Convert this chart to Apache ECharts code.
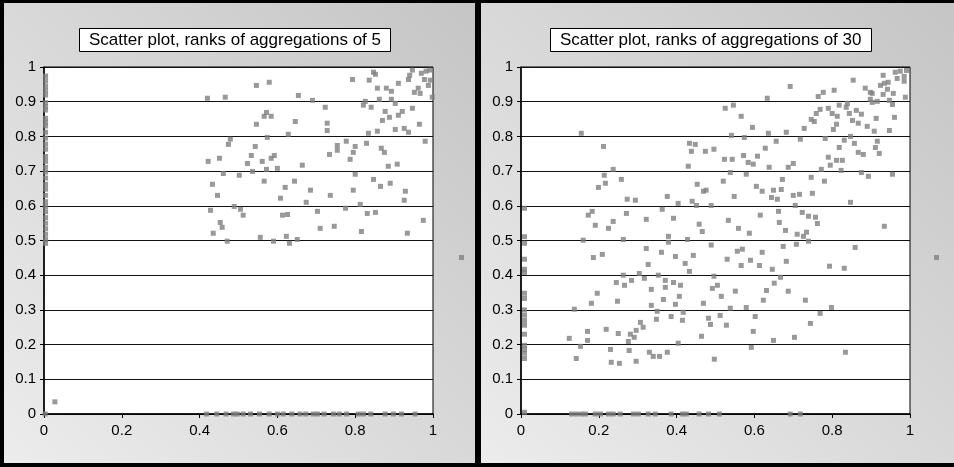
<!DOCTYPE html>
<html lang="en">
<head>
  <meta http-equiv="Content-Type" content="text/html; charset=UTF-8">
  <title>Scatter plots of ranks</title>
  <style>
    body { margin: 0; width: 954px; height: 467px; background: #000; position: relative; overflow: hidden; }
    .panel { position: absolute; top: 3px; height: 460px; background: linear-gradient(to top right, #ececec, #c5c5c5); }
  </style>
</head>
<body>
  <div id="chart5" class="panel" style="left: 4px; width: 471px;"></div>
  <div id="chart30" class="panel" style="left: 481px; width: 473px;"></div>
  <script src="https://cdn.jsdelivr.net/npm/echarts@6/dist/echarts.min.js"></script>
  <script>
    // aggregations of 5: cloud of points, points on the y axis (x ~ 0), points on the x axis (y = 0)
    const agg5Cloud = [
      [0.947,0.991],[0.847,0.985],[0.852,0.979],[0.970,0.982],[0.982,0.988],[0.992,0.991],[0.940,0.976],[0.937,0.964],[0.793,0.964],[0.836,0.962],
      [0.546,0.947],[0.579,0.956],[0.911,0.953],[0.988,0.947],[0.993,0.962],[0.978,0.964],[0.857,0.939],[0.880,0.939],[0.893,0.930],[0.952,0.927],
      [0.962,0.939],[0.967,0.924],[0.420,0.910],[0.466,0.913],[0.654,0.918],[0.690,0.904],[0.998,0.913],[0.862,0.907],[0.893,0.907],[0.903,0.895],
      [0.826,0.901],[0.821,0.890],[0.841,0.884],[0.723,0.884],[0.572,0.869],[0.566,0.858],[0.584,0.858],[0.877,0.872],[0.921,0.872],[0.947,0.881],
      [0.911,0.861],[0.888,0.855],[0.870,0.846],[0.646,0.843],[0.546,0.835],[0.728,0.838],[0.728,0.817],[0.965,0.835],[0.903,0.820],[0.926,0.823],
      [0.937,0.812],[0.857,0.815],[0.834,0.809],[0.628,0.806],[0.574,0.797],[0.479,0.792],[0.474,0.777],[0.543,0.771],[0.777,0.786],[0.754,0.774],
      [0.754,0.760],[0.800,0.771],[0.829,0.780],[0.867,0.766],[0.875,0.754],[0.795,0.754],[0.734,0.748],[0.980,0.786],[0.422,0.728],[0.451,0.737],
      [0.533,0.745],[0.592,0.745],[0.584,0.737],[0.561,0.728],[0.523,0.722],[0.664,0.717],[0.787,0.734],[0.885,0.714],[0.908,0.720],[0.461,0.693],
      [0.502,0.688],[0.536,0.699],[0.572,0.705],[0.600,0.708],[0.433,0.662],[0.566,0.671],[0.620,0.653],[0.644,0.671],[0.685,0.645],[0.800,0.691],
      [0.847,0.676],[0.865,0.656],[0.890,0.665],[0.795,0.645],[0.929,0.642],[0.446,0.630],[0.608,0.622],[0.736,0.630],[0.926,0.616],[0.674,0.610],
      [0.489,0.598],[0.505,0.590],[0.428,0.587],[0.512,0.573],[0.613,0.573],[0.626,0.575],[0.703,0.584],[0.775,0.593],[0.813,0.604],[0.831,0.578],
      [0.852,0.581],[0.453,0.552],[0.458,0.538],[0.435,0.521],[0.710,0.535],[0.746,0.541],[0.816,0.526],[0.934,0.521],[0.975,0.558],[0.471,0.498],
      [0.556,0.509],[0.590,0.498],[0.623,0.512],[0.631,0.492],[0.651,0.503],[0.028,0.035],[0.003,0.0]
    ];
    const agg5OnYAxis = [0.974,0.960,0.945,0.932,0.919,0.897,0.885,0.876,0.852,0.841,0.830,0.812,0.795,0.778,0.763,0.742,
      0.728,0.711,0.697,0.680,0.662,0.648,0.630,0.612,0.598,0.583,0.566,0.550,0.534,0.518,0.503,0.492];
    const agg5OnXAxis = [0.418,0.444,0.468,0.487,0.497,0.512,0.531,0.554,0.579,0.600,0.615,0.637,0.658,0.673,0.692,0.703,
      0.720,0.744,0.759,0.778,0.808,0.821,0.840,0.877,0.898,0.919,0.954];

    // aggregations of 30
    const agg30Cloud = [
      [0.155,0.809],[0.212,0.771],[0.433,0.780],[0.448,0.777],[0.438,0.757],[0.474,0.757],[0.496,0.763],[0.430,0.714],[0.237,0.705],[0.214,0.688],
      [0.258,0.676],[0.217,0.665],[0.199,0.653],[0.453,0.662],[0.469,0.642],[0.476,0.645],[0.273,0.619],[0.294,0.616],[0.376,0.627],[0.404,0.607],
      [0.440,0.613],[0.451,0.601],[0.489,0.601],[0.363,0.590],[0.183,0.584],[0.173,0.573],[0.271,0.578],[0.392,0.564],[0.322,0.561],[0.191,0.544],
      [0.237,0.555],[0.225,0.535],[0.458,0.547],[0.466,0.526],[0.379,0.512],[0.428,0.503],[0.263,0.503],[0.160,0.501],
      [0.379,0.495],[0.489,0.487],[0.322,0.477],[0.361,0.466],[0.397,0.454],[0.443,0.457],[0.209,0.460],[0.186,0.451],[0.422,0.434],[0.327,0.431],
      [0.433,0.411],[0.304,0.405],[0.263,0.400],[0.353,0.400],[0.317,0.391],[0.496,0.397],[0.284,0.385],[0.245,0.379],[0.371,0.385],[0.392,0.379],
      [0.266,0.371],[0.410,0.371],[0.371,0.365],[0.335,0.359],[0.492,0.362],[0.196,0.348],[0.407,0.339],[0.366,0.330],[0.248,0.325],[0.181,0.319],
      [0.397,0.316],[0.335,0.313],[0.469,0.319],[0.137,0.302],[0.350,0.296],[0.417,0.293],[0.386,0.281],[0.348,0.273],[0.415,0.270],[0.482,0.276],
      [0.307,0.264],[0.487,0.258],[0.219,0.244],[0.314,0.250],[0.171,0.238],[0.250,0.232],[0.296,0.241],[0.281,0.230],[0.291,0.221],[0.464,0.224],
      [0.124,0.218],[0.171,0.212],[0.276,0.209],[0.404,0.204],[0.153,0.195],[0.230,0.186],[0.278,0.183],[0.330,0.178],[0.376,0.178],[0.340,0.166],
      [0.356,0.166],[0.142,0.160],[0.232,0.149],[0.253,0.146],[0.296,0.152],[0.497,0.158],
      [0.556,0.469],[0.569,0.475],[0.620,0.466],[0.674,0.483],[0.708,0.489],[0.739,0.498],[0.859,0.480],[0.530,0.446],[0.566,0.428],[0.590,0.443],
      [0.613,0.428],[0.646,0.417],[0.682,0.440],[0.793,0.426],[0.831,0.420],[0.667,0.394],[0.505,0.371],[0.651,0.377],[0.551,0.354],[0.631,0.356],
      [0.687,0.354],[0.515,0.339],[0.623,0.328],[0.731,0.328],[0.538,0.305],[0.579,0.307],[0.798,0.307],[0.769,0.290],[0.512,0.284],[0.602,0.281],
      [0.528,0.256],[0.744,0.261],[0.597,0.238],[0.649,0.212],[0.703,0.221],[0.592,0.192],[0.834,0.178],
      [0.931,0.976],[0.962,0.985],[0.975,0.988],[0.991,0.990],[0.985,0.973],[0.967,0.967],[0.985,0.959],[0.854,0.962],[0.692,0.944],[0.924,0.947],
      [0.934,0.953],[0.944,0.956],[0.885,0.939],[0.898,0.927],[0.903,0.924],[0.931,0.921],[0.942,0.936],[0.957,0.924],[0.988,0.913],[0.805,0.933],
      [0.777,0.927],[0.764,0.915],[0.633,0.910],[0.898,0.907],[0.903,0.898],[0.916,0.901],[0.947,0.904],[0.955,0.892],[0.525,0.881],[0.546,0.890],
      [0.818,0.890],[0.839,0.895],[0.836,0.884],[0.769,0.878],[0.790,0.881],[0.759,0.866],[0.800,0.866],[0.813,0.858],[0.844,0.866],[0.862,0.875],
      [0.875,0.864],[0.566,0.858],[0.746,0.849],[0.754,0.843],[0.852,0.846],[0.867,0.838],[0.913,0.852],[0.960,0.855],[0.811,0.835],[0.803,0.820],
      [0.890,0.829],[0.908,0.815],[0.947,0.817],[0.595,0.826],[0.636,0.809],[0.682,0.812],[0.728,0.823],[0.541,0.803],[0.574,0.797],[0.656,0.786],
      [0.718,0.792],[0.782,0.794],[0.831,0.789],[0.847,0.800],[0.857,0.780],[0.916,0.786],[0.628,0.766],[0.818,0.768],[0.867,0.754],[0.880,0.748],
      [0.911,0.768],[0.921,0.751],[0.523,0.734],[0.543,0.734],[0.572,0.745],[0.608,0.743],[0.584,0.725],[0.597,0.720],[0.638,0.711],[0.687,0.711],
      [0.700,0.722],[0.790,0.740],[0.811,0.731],[0.826,0.731],[0.795,0.717],[0.772,0.705],[0.823,0.702],[0.538,0.696],[0.579,0.691],[0.875,0.696],
      [0.893,0.685],[0.955,0.691],[0.520,0.671],[0.672,0.676],[0.746,0.682],[0.780,0.671],[0.605,0.656],[0.620,0.642],[0.649,0.645],[0.669,0.647],
      [0.548,0.627],[0.644,0.624],[0.659,0.619],[0.700,0.630],[0.716,0.633],[0.749,0.636],[0.705,0.601],[0.847,0.610],[0.533,0.558],[0.615,0.573],
      [0.662,0.584],[0.664,0.552],[0.723,0.581],[0.739,0.570],[0.757,0.567],[0.762,0.549],[0.559,0.535],[0.587,0.521],[0.680,0.529],[0.710,0.518],
      [0.726,0.512],[0.734,0.524],[0.934,0.541]
    ];
    const agg30OnYAxis = [0.593,0.511,0.492,0.446,0.417,0.408,0.348,0.333,0.300,0.285,0.270,0.256,0.230,0.198,0.186,0.175,0.160,0.005];
    const agg30OnXAxis = [0.130,0.143,0.156,0.166,0.191,0.204,0.225,0.237,0.255,0.289,0.302,0.327,0.345,0.386,0.415,0.425,
      0.458,0.482,0.510,0.692,0.718];

    const font = "'Liberation Sans', Arial, sans-serif";

    function makeOption(title, titleLeft, legendLeft, cloud, onY, yAxisX, onX) {
      const data = cloud
        .concat(onY.map(v => [yAxisX, v]))
        .concat(onX.map(v => [v, 0]));
      return {
        animation: false,
        textStyle: { fontFamily: font },
        title: {
          text: title,
          left: titleLeft,
          top: 25,
          padding: [4, 10, 3, 10],
          backgroundColor: '#fff',
          borderColor: '#000',
          borderWidth: 1,
          textStyle: { fontFamily: font, fontSize: 17, fontWeight: 'normal', color: '#000' }
        },
        legend: {
          left: legendLeft,
          top: 252,
          padding: 0,
          itemWidth: 5,
          itemHeight: 5,
          formatter: () => '',
          data: [' ']
        },
        grid: {
          left: 40, top: 64, width: 389, height: 347,
          show: true, backgroundColor: '#fff', borderColor: '#000', borderWidth: 1
        },
        xAxis: {
          type: 'value', min: 0, max: 1, interval: 0.2,
          axisLine: { lineStyle: { color: '#000', width: 1.5 } },
          axisTick: { length: 4, lineStyle: { color: '#000' } },
          axisLabel: { color: '#000', fontSize: 15, margin: 9, fontFamily: font },
          splitLine: { show: false }
        },
        yAxis: {
          type: 'value', min: 0, max: 1, interval: 0.1,
          axisLine: { show: true, lineStyle: { color: '#000', width: 1.5 } },
          axisTick: { show: true, length: 4, lineStyle: { color: '#000' } },
          axisLabel: { color: '#000', fontSize: 15, margin: 8, fontFamily: font },
          splitLine: { lineStyle: { color: '#111', width: 1 } }
        },
        series: [{
          name: ' ',
          type: 'scatter',
          symbol: 'rect',
          symbolSize: 5,
          clip: false,
          itemStyle: { color: '#7f7f7f' },
          data: data
        }]
      };
    }

    const chart5 = echarts.init(document.getElementById('chart5'));
    chart5.setOption(makeOption('Scatter plot, ranks of aggregations of 5', 75, 455,
      agg5Cloud, agg5OnYAxis, 0.004, agg5OnXAxis));

    const chart30 = echarts.init(document.getElementById('chart30'));
    chart30.setOption(makeOption('Scatter plot, ranks of aggregations of 30', 69, 453,
      agg30Cloud, agg30OnYAxis, 0.009, agg30OnXAxis));
  </script>
</body>
</html>
